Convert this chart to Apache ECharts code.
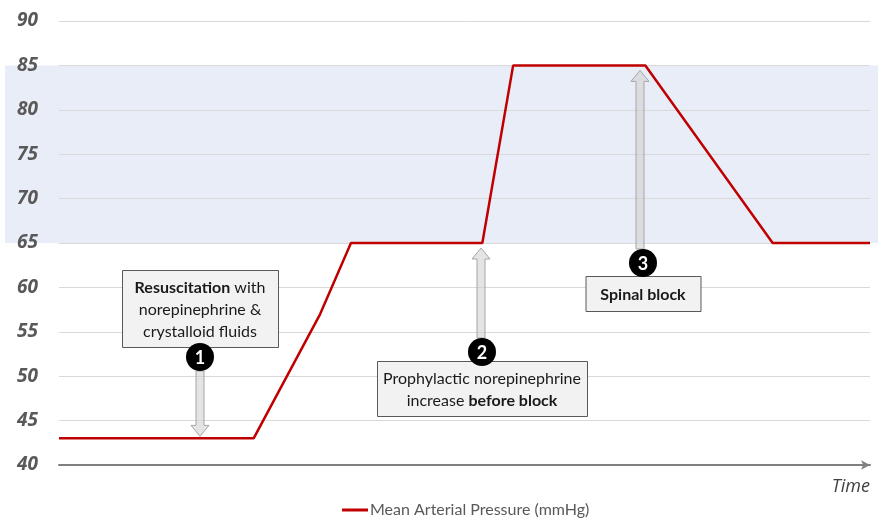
<!DOCTYPE html>
<html>
<head>
<meta charset="utf-8">
<script src="https://cdn.jsdelivr.net/npm/echarts@6/dist/echarts.min.js"></script>
<style>
  html, body { margin: 0; padding: 0; background: #fff; }
  #chart { width: 878px; height: 519px; }
</style>
</head>
<body>
<div id="chart"></div>
<script>
// time is unitless (0..100), pressure in mmHg
const timePoints = [0, 24, 32.2, 36, 52.2, 56, 72.3, 88, 100];
const mapValues = [43, 43, 57, 65, 65, 85, 85, 65, 65];
const yTicks = [40, 45, 50, 55, 60, 65, 70, 75, 80, 85, 90];
const targetBand = [65, 85];

// annotation anchors: where each arrow points on the curve
const noteNumbers = ['1', '2', '3'];
const noteTimes = [17.4, 52, 71.6];
const noteValues = [43, 65, 85];
const noteTexts = [
  '{b|Resuscitation} with\nnorepinephrine &\ncrystalloid fluids',
  'Prophylactic norepinephrine\nincrease {b|before block}',
  '{b|Spinal block}'
];

const chart = echarts.init(document.getElementById('chart'));

const options = {
  animation: false,
  grid: { left: 59, right: 8, top: 21, bottom: 54 },
  legend: {
    top: 502,
    left: 342,
    padding: 0,
    icon: 'rect',
    itemWidth: 26,
    itemHeight: 3,
    textStyle: { fontFamily: 'Lato', fontSize: 16, color: '#595959', padding: [0, 0, 0, -3] },
    data: ['Mean Arterial Pressure (mmHg)']
  },
  xAxis: {
    type: 'value',
    min: 0,
    max: 100,
    name: 'Time',
    nameLocation: 'end',
    nameGap: 0,
    nameTextStyle: {
      fontFamily: 'Open Sans', fontStyle: 'italic', fontSize: 18, color: '#404040',
      align: 'right', verticalAlign: 'top', padding: [13, 0, 0, 0]
    },
    axisLine: {
      show: true,
      symbol: ['none', 'arrow'],
      symbolSize: [7, 9],
      lineStyle: { color: '#808080', width: 2 }
    },
    axisTick: { show: false },
    axisLabel: { show: false },
    splitLine: { show: false }
  },
  yAxis: {
    type: 'value',
    min: yTicks[0],
    max: yTicks[yTicks.length - 1],
    interval: 5,
    axisLine: { show: false },
    axisTick: { show: false },
    axisLabel: {
      margin: 21,
      fontFamily: 'Open Sans', fontStyle: 'italic', fontWeight: 'bold',
      fontSize: 19, color: '#595959'
    },
    splitLine: { show: true, lineStyle: { color: '#d9d9d9', width: 1 } }
  },
  series: [
    {
      type: 'custom',
      z: -1,
      silent: true,
      data: [targetBand],
      renderItem: function (params, api) {
        const yLow = api.coord([0, api.value(0)])[1];
        const yHigh = api.coord([0, api.value(1)])[1];
        return {
          type: 'rect',
          shape: { x: 5, y: yHigh, width: api.getWidth() - 5, height: yLow - yHigh },
          style: { fill: '#e9edf7' }
        };
      }
    },
    {
      name: 'Mean Arterial Pressure (mmHg)',
      type: 'line',
      data: timePoints.map((t, i) => [t, mapValues[i]]),
      symbol: 'none',
      lineStyle: { color: '#c00000', width: 2.5 },
      itemStyle: { color: '#c00000' }
    }
  ]
};

chart.setOption(options);

// box / badge layout per note, in pixels relative to the arrow tip
const noteLayout = [
  { circleDy: -81, boxW: 156, boxH: 77, boxDy: -87, dx: 0 },
  { circleDy: 109, boxW: 210, boxH: 55, boxDy: 9, dx: 1 },
  { circleDy: 198, boxW: 115, boxH: 35, boxDy: 13, dx: 3 }
];

function arrowPoints(x, y0, y1) {
  const d = y1 > y0 ? 1 : -1;
  const hy = y1 - d * 11;
  return [[x - 4, y0], [x - 4, hy], [x - 9, hy], [x, y1], [x + 9, hy], [x + 4, hy], [x + 4, y0]];
}

const graphics = [];
noteNumbers.forEach((num, i) => {
  const p = chart.convertToPixel({ gridIndex: 0 }, [noteTimes[i], noteValues[i]]);
  const lay = noteLayout[i];
  const x = Math.round(p[0]);
  const tipY = p[1] + (lay.circleDy > 0 ? 5 : -2);
  const cy = Math.round(p[1] + lay.circleDy);
  const cx = x + lay.dx;
  const baseY = cy + (lay.circleDy > 0 ? -14 : 14);
  graphics.push({
    type: 'polygon',
    shape: { points: arrowPoints(x, baseY, tipY) },
    style: { fill: 'rgba(205,205,205,0.55)', stroke: '#a6a6a6', lineWidth: 1 },
    z: 10
  });
  graphics.push({
    type: 'rect',
    shape: { x: cx - lay.boxW / 2 + 0.5, y: cy + lay.boxDy + 0.5, width: lay.boxW, height: lay.boxH },
    style: { fill: '#f2f2f2', stroke: '#595959', lineWidth: 1 },
    z: 11
  });
  graphics.push({
    type: 'text',
    x: cx,
    y: cy + lay.boxDy + lay.boxH / 2 + 1,
    style: {
      text: noteTexts[i],
      fontFamily: 'Lato', fontSize: 16, lineHeight: 22, fill: '#1a1a1a',
      align: 'center', verticalAlign: 'middle',
      rich: { b: { fontFamily: 'Lato', fontSize: 16, fontWeight: 'bold', fill: '#1a1a1a', lineHeight: 22 } }
    },
    z: 12
  });
  graphics.push({
    type: 'circle',
    shape: { cx: cx, cy: cy, r: 14 },
    style: { fill: '#000' },
    z: 13
  });
  graphics.push({
    type: 'text',
    x: cx,
    y: cy + 1,
    style: {
      text: num, fontFamily: 'Lato', fontWeight: 'bold', fontSize: 18,
      fill: '#fff', align: 'center', verticalAlign: 'middle'
    },
    z: 14
  });
});

chart.setOption({ graphic: graphics });
</script>
</body>
</html>
